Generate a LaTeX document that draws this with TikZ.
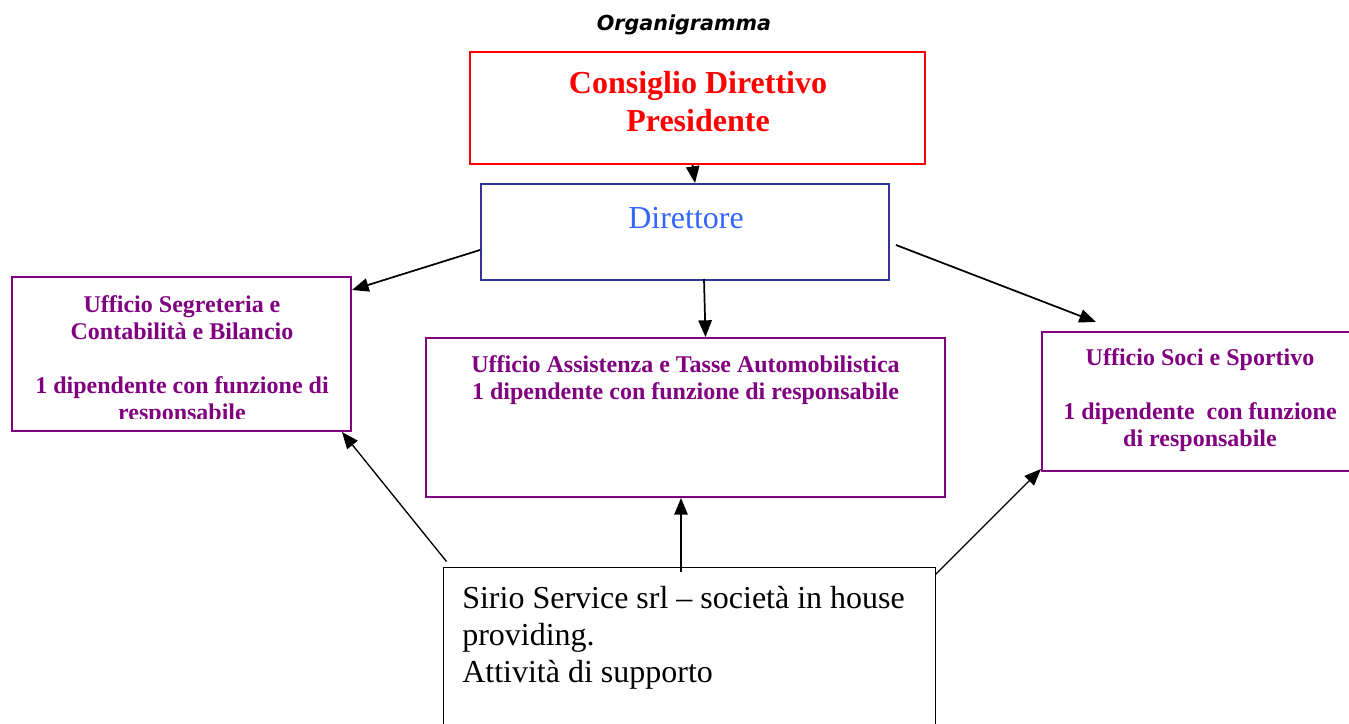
\documentclass[tikz,border=0pt]{standalone}
\usepackage{fontspec}
\setmainfont{Liberation Serif}
\newfontfamily\titlefont{DejaVu Sans}[ItalicFont={DejaVu Sans Oblique},BoldFont={DejaVu Sans Bold},BoldItalicFont={DejaVu Sans Bold Oblique}]
\usetikzlibrary{arrows.meta,calc}
\definecolor{boxred}{RGB}{255,0,0}
\definecolor{boxnavy}{RGB}{51,51,153}
\definecolor{dirblue}{RGB}{51,102,255}
\definecolor{officepurple}{RGB}{128,0,128}
\newcommand{\pxu}{0.75pt}

\tikzset{
  frame/.style={draw, rectangle, inner sep=0pt, line width=1.5pt},
  officebox/.style={frame, draw=officepurple},
  officetext/.style={text=officepurple, font=\fontsize{18}{20.25}\selectfont\bfseries, align=center, inner sep=0pt, anchor=base},
  link/.style={line width=1.3pt, -{Triangle[length=12.5pt,width=10pt]}},
}

\begin{document}
\begin{tikzpicture}[x=0.75pt, y=-0.75pt]
  \useasboundingbox (0,0) rectangle (1349,724);
  % title
  \node[font=\titlefont\fontsize{15.5}{18}\selectfont\bfseries\itshape, anchor=base, inner sep=0pt] (title) at (684,31) {Organigramma};

  % boxes
  \node[frame, draw=boxred, minimum width=455*\pxu, minimum height=112*\pxu] (cd) at (697.5,108) {};
  \node[frame, draw=boxnavy, minimum width=408*\pxu, minimum height=96*\pxu] (dir) at (685,232) {};
  \node[officebox, minimum width=339*\pxu, minimum height=154*\pxu] (seg) at (181.5,354) {};
  \node[officebox, minimum width=519*\pxu, minimum height=159*\pxu] (ass) at (685.5,417.5) {};
  \node[officebox, minimum width=314*\pxu, minimum height=139*\pxu] (soci) at (1199,401.5) {};
  \node[frame, line width=0.75pt, minimum width=492*\pxu, minimum height=173*\pxu] (sirio) at (689,653.5) {};

  % texts (base = last line)
  \node[text=boxred, font=\fontsize{24}{29}\selectfont\bfseries, align=center, inner sep=0pt, anchor=base] (cdtext) at (698,132) {Consiglio Direttivo\\Presidente};
  \node[text=dirblue, font=\fontsize{24}{29}\selectfont, inner sep=0pt, anchor=base] (dirtext) at (686,228) {Direttore};
  \begin{scope}
    \clip (14,279) rectangle (349,418);
    \node[officetext] (segtext) at (182,420) {Ufficio Segreteria e\\Contabilità e Bilancio\\[20.25pt]1 dipendente con funzione di\\responsabile};
  \end{scope}
  \node[officetext] (asstext) at (685.5,399) {Ufficio Assistenza e Tasse Automobilistica\\1 dipendente con funzione di responsabile};
  \node[officetext] (socitext) at (1200,446) {Ufficio Soci e Sportivo\\[20.25pt]1 dipendente \ con funzione\\di responsabile};
  \node[font=\fontsize{24}{27.75}\selectfont, align=left, inner sep=0pt, anchor=base west] (siriotext) at (462,682) {Sirio Service srl – società in house\\providing.\\Attività di supporto};

  % connectors
  \draw[link] ($(cd.south)+(-5,0)$) -- ($(dir.north)+(10,0)$);
  \draw[link] ($(dir.west)+(0,18)$) -- ($(seg.north east)+(0,14)$);
  \draw[link] ($(dir.south)+(19,-2)$) -- ($(ass.north)+(20,0)$);
  \draw[link] ($(dir.east)+(6,13)$) -- ($(soci.north west)+(55,-9)$);
  \draw[link, line width=1pt] ($(sirio.north west)+(4,-5)$) -- ($(seg.south east)+(-10,0)$);
  \draw[link] ($(sirio.north)+(-8,5)$) -- ($(ass.south)+(-4.5,0)$);
  \draw[link, line width=1pt] ($(sirio.north east)+(0,8)$) -- ($(soci.south west)+(0,-3)$);
\end{tikzpicture}
\end{document}
